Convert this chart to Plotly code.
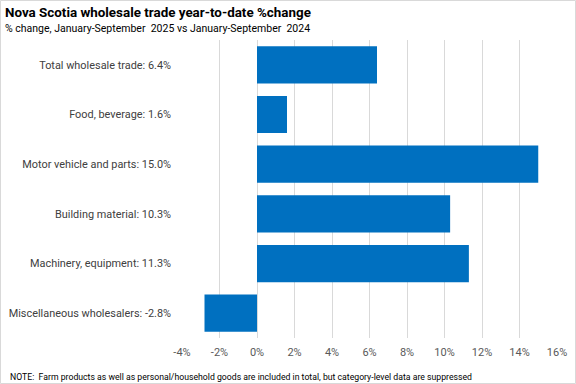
import plotly.graph_objects as go

categories = ["Total wholesale trade: 6.4%", "Food, beverage: 1.6%", "Motor vehicle and parts: 15.0%",
              "Building material: 10.3%", "Machinery, equipment: 11.3%", "Miscellaneous wholesalers: -2.8%"]
values = [6.4, 1.6, 15.0, 10.3, 11.3, -2.8]
tick_vals = [-4, -2, 0, 2, 4, 6, 8, 10, 12, 14, 16]
tick_text = [f"{v}%" for v in tick_vals]

W, H = 576, 384
L, R, T, B = 182, 19, 40, 46
pw = W - L - R
ph = H - T - B

def px(x):
    return (x - L) / pw

def py(y):
    return 1 - (y - T) / ph

fig = go.Figure(go.Bar(
    y=categories, x=values, orientation="h",
    marker=dict(color="#0070C0", line=dict(width=0)),
    width=0.75,
))

fontfam = "Roboto, Liberation Sans, sans-serif"
fig.update_layout(
    width=W, height=H,
    margin=dict(l=L, r=R, t=T, b=B, autoexpand=False),
    paper_bgcolor="white", plot_bgcolor="white",
    showlegend=False,
    font=dict(family=fontfam, color="#404040", size=11),
    xaxis=dict(range=[-4, 16], tickvals=tick_vals, ticktext=tick_text,
               showgrid=True, gridcolor="#D9D9D9", gridwidth=1,
               zeroline=False, showline=False, ticks="", automargin=False,
               ticklabelstandoff=6,
               tickfont=dict(size=11, color="#595959")),
    yaxis=dict(autorange="reversed", showgrid=False, zeroline=False, showline=False,
               ticks="", ticklabelstandoff=10, automargin=False,
               tickfont=dict(size=10.9, color="#404040")),
    bargap=0.25,
)

fig.add_annotation(text="<b>Nova Scotia wholesale trade year-to-date %change</b>",
                   xref="paper", yref="paper", x=px(3), y=py(13), xanchor="left", yanchor="middle",
                   showarrow=False, font=dict(size=13.4, color="#000000", family=fontfam))
fig.add_annotation(text="% change, January-September  2025 vs January-September  2024",
                   xref="paper", yref="paper", x=px(3), y=py(29), xanchor="left", yanchor="middle",
                   showarrow=False, font=dict(size=10.5, color="#000000", family=fontfam))
fig.add_annotation(text="NOTE:  Farm products as well as personal/household goods are included in total, but category-level data are suppressed",
                   xref="paper", yref="paper", x=px(8), y=py(377), xanchor="left", yanchor="middle",
                   showarrow=False, font=dict(size=8.7, color="#000000", family=fontfam))
fig.add_shape(type="rect", xref="paper", yref="paper", x0=px(0.5), x1=px(W - 0.5), y0=py(0.5), y1=py(H - 0.5),
              line=dict(color="#D9D9D9", width=1), layer="below")

fig.write_html("out.html", config={"displayModeBar": False},
               post_script="document.body.style.margin='0';document.body.style.padding='0';")
